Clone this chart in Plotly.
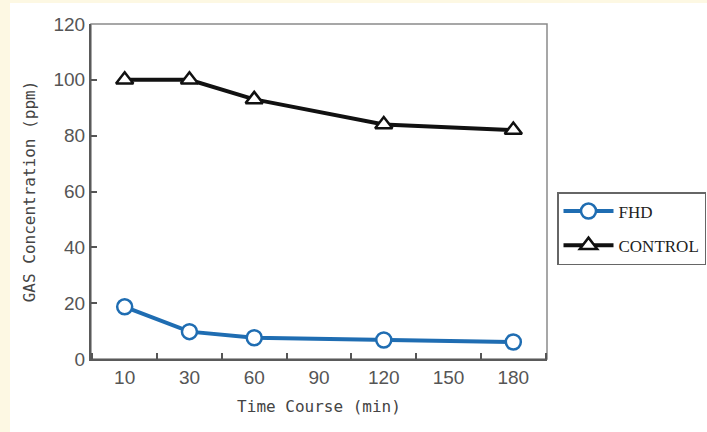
import plotly.graph_objects as go

categories = ["10", "30", "60", "90", "120", "150", "180"]
time_points = ["10", "30", "60", "120", "180"]
fhd = [18.7, 9.8, 7.6, 6.8, 6.1]
control = [100, 100, 93, 84, 82]

L, R, T, B = 91, 160, 24, 73
W, H = 707, 432
pw, ph = W - L - R, H - T - B

def px(x):
    return (x - L) / pw

def py(y):
    return (H - B - y) / ph

fig = go.Figure()
fig.add_trace(go.Scatter(
    x=time_points, y=fhd, name="FHD", mode="lines+markers",
    line=dict(color="#1f6db2", width=4),
    marker=dict(symbol="circle", size=15, color="white",
                line=dict(color="#1f6db2", width=2.5)),
    legendgroup="a",
))
fig.add_trace(go.Scatter(
    x=time_points, y=control, name="CONTROL", mode="lines+markers",
    line=dict(color="#111111", width=4),
    marker=dict(symbol="triangle-up", size=15, color="white",
                line=dict(color="#111111", width=2.5)),
    legendgroup="b",
))

shapes = [
    dict(type="rect", xref="paper", yref="paper", x0=px(0), x1=px(10),
         y0=py(H), y1=py(0), fillcolor="#fdf8e3", line=dict(width=0), layer="below"),
    dict(type="rect", xref="paper", yref="paper", x0=px(0), x1=px(W),
         y0=py(3), y1=py(0), fillcolor="#fdf8e3", line=dict(width=0), layer="below"),
    dict(type="rect", xref="paper", yref="paper", x0=0, x1=1, y0=0, y1=1,
         line=dict(color="#8a8a8a", width=1.5), layer="below"),
]

tickfont = dict(family="Liberation Sans Narrow, Arial Narrow, sans-serif", size=19, color="#555555")
titlefont = dict(family="DejaVu Sans Mono, monospace", size=16, color="#444444")

fig.update_layout(
    width=W, height=H,
    margin=dict(l=L, r=R, t=T, b=B, autoexpand=False),
    paper_bgcolor="white", plot_bgcolor="white",
    shapes=shapes,
    showlegend=True,
    legend=dict(
        xref="container", yref="container",
        x=557 / W, y=1 - 192 / H, xanchor="left", yanchor="top",
        bordercolor="#666666", borderwidth=1.5, bgcolor="white",
        font=dict(family="Liberation Serif, serif", size=17, color="#222222"),
        tracegroupgap=9, traceorder="grouped", itemwidth=50,
    ),
    xaxis=dict(
        type="category", categoryorder="array", categoryarray=categories,
        range=[-0.52, 6.52], tickson="boundaries",
        ticks="inside", ticklen=6, tickwidth=1.5, tickcolor="#555555",
        showline=True, linecolor="#5a5a5a", linewidth=2,
        showgrid=False, zeroline=False, tickfont=tickfont,
        title=dict(text="Time Course (min)", font=titlefont, standoff=14),
    ),
    yaxis=dict(
        range=[0, 120], tickvals=[0, 20, 40, 60, 80, 100, 120],
        ticks="inside", ticklen=6, tickwidth=1.5, tickcolor="#555555",
        showline=True, linecolor="#5a5a5a", linewidth=2,
        showgrid=False, zeroline=False, tickfont=tickfont,
        title=dict(text="GAS Concentration (ppm)", font=titlefont, standoff=14),
    ),
)

fig.write_html("out.html", config={"displayModeBar": False},
               post_script="document.body.style.margin='0';document.body.style.padding='0';")
